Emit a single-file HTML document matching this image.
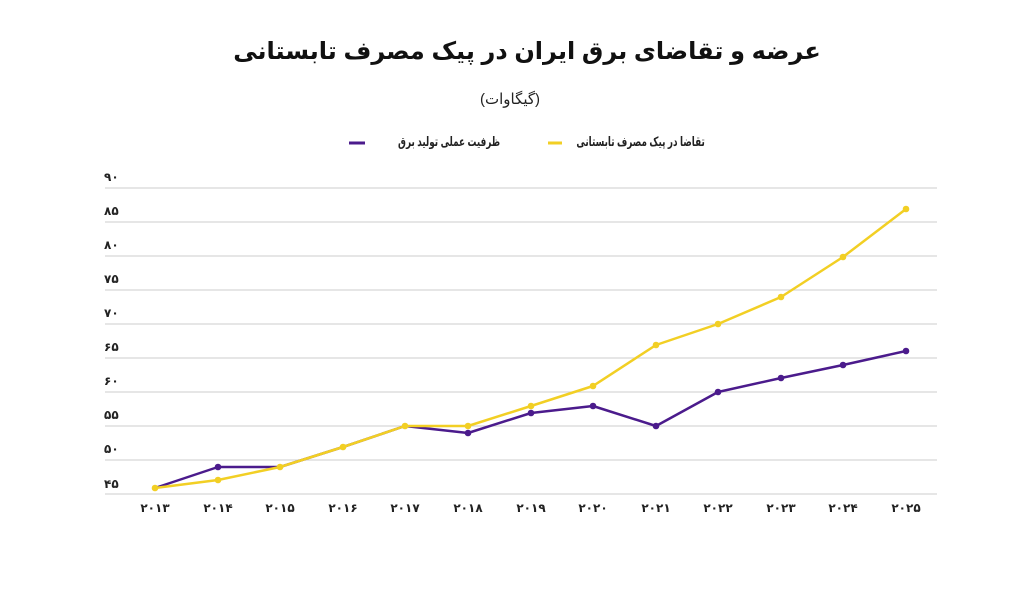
<!DOCTYPE html>
<html><head><meta charset="utf-8"><style>
body{margin:0;background:#fff;width:1024px;height:593px;overflow:hidden;font-family:"Liberation Sans","DejaVu Sans",sans-serif;position:relative}
.t{position:absolute;white-space:nowrap;direction:rtl}
.lg{font-size:13px;font-weight:bold;color:#222;transform:scaleX(0.68);transform-origin:right center}
</style></head><body>
<div class="t" style="left:0;width:1054px;top:37px;text-align:center;font-size:24px;font-weight:bold;color:#111">عرضه و تقاضای برق ایران در پیک مصرف تابستانی</div>
<div class="t" style="left:0;width:1020px;top:90px;text-align:center;font-size:15px;color:#222">(گیگاوات)</div>
<div class="t lg" style="right:319px;top:134px">تقاضا در پیک مصرف تابستانی</div>
<div class="t lg" style="right:524px;top:134px">ظرفیت عملی تولید برق</div>
<svg style="position:absolute;left:0;top:0" width="1024" height="593" xmlns="http://www.w3.org/2000/svg" font-family="Liberation Sans, DejaVu Sans, sans-serif">
<line x1="548" y1="143" x2="562" y2="143" stroke="#f2cf24" stroke-width="3"/>
<line x1="349" y1="143" x2="365" y2="143" stroke="#4b1b8c" stroke-width="3"/>
<g stroke="#d6d6d6" stroke-width="1.3">
<line x1="105" x2="937" y1="188" y2="188"/><line x1="105" x2="937" y1="222" y2="222"/>
<line x1="105" x2="937" y1="256" y2="256"/><line x1="105" x2="937" y1="290" y2="290"/>
<line x1="105" x2="937" y1="324" y2="324"/><line x1="105" x2="937" y1="358" y2="358"/>
<line x1="105" x2="937" y1="392" y2="392"/><line x1="105" x2="937" y1="426" y2="426"/>
<line x1="105" x2="937" y1="460" y2="460"/><line x1="105" x2="937" y1="494" y2="494"/>
</g>
<g font-size="12" font-weight="bold" fill="#222">
<text x="104" y="181">۹۰</text><text x="104" y="215">۸۵</text><text x="104" y="249">۸۰</text>
<text x="104" y="283">۷۵</text><text x="104" y="317">۷۰</text><text x="104" y="351">۶۵</text>
<text x="104" y="385">۶۰</text><text x="104" y="419">۵۵</text><text x="104" y="453">۵۰</text>
<text x="104" y="488">۴۵</text>
</g>
<g font-size="12" font-weight="bold" fill="#222" text-anchor="middle">
<text x="155" y="512">۲۰۱۳</text><text x="218" y="512">۲۰۱۴</text><text x="280" y="512">۲۰۱۵</text>
<text x="343" y="512">۲۰۱۶</text><text x="405" y="512">۲۰۱۷</text><text x="468" y="512">۲۰۱۸</text>
<text x="531" y="512">۲۰۱۹</text><text x="593" y="512">۲۰۲۰</text><text x="656" y="512">۲۰۲۱</text>
<text x="718" y="512">۲۰۲۲</text><text x="781" y="512">۲۰۲۳</text><text x="843" y="512">۲۰۲۴</text>
<text x="906" y="512">۲۰۲۵</text>
</g>
<polyline fill="none" stroke="#4b1b8c" stroke-width="2.5" stroke-linejoin="round" points="155,488 218,467 280,467 343,447 405,426 468,433 531,413 593,406 656,426 718,392 781,378 843,365 906,351"/>
<g fill="#4b1b8c">
<circle cx="218" cy="467" r="3.3"/><circle cx="468" cy="433" r="3.3"/><circle cx="531" cy="413" r="3.3"/><circle cx="593" cy="406" r="3.3"/><circle cx="656" cy="426" r="3.3"/><circle cx="718" cy="392" r="3.3"/><circle cx="781" cy="378" r="3.3"/><circle cx="843" cy="365" r="3.3"/><circle cx="906" cy="351" r="3.3"/>
</g>
<polyline fill="none" stroke="#f2cf24" stroke-width="2.5" stroke-linejoin="round" points="155,488 218,480 280,467 343,447 405,426 468,426 531,406 593,386 656,345 718,324 781,297 843,257 906,209"/>
<g fill="#f2cf24">
<circle cx="155" cy="488" r="3.3"/><circle cx="218" cy="480" r="3.3"/><circle cx="280" cy="467" r="3.3"/><circle cx="343" cy="447" r="3.3"/><circle cx="405" cy="426" r="3.3"/><circle cx="468" cy="426" r="3.3"/><circle cx="531" cy="406" r="3.3"/><circle cx="593" cy="386" r="3.3"/><circle cx="656" cy="345" r="3.3"/><circle cx="718" cy="324" r="3.3"/><circle cx="781" cy="297" r="3.3"/><circle cx="843" cy="257" r="3.3"/><circle cx="906" cy="209" r="3.3"/>
</g>
</svg>
</body></html>
